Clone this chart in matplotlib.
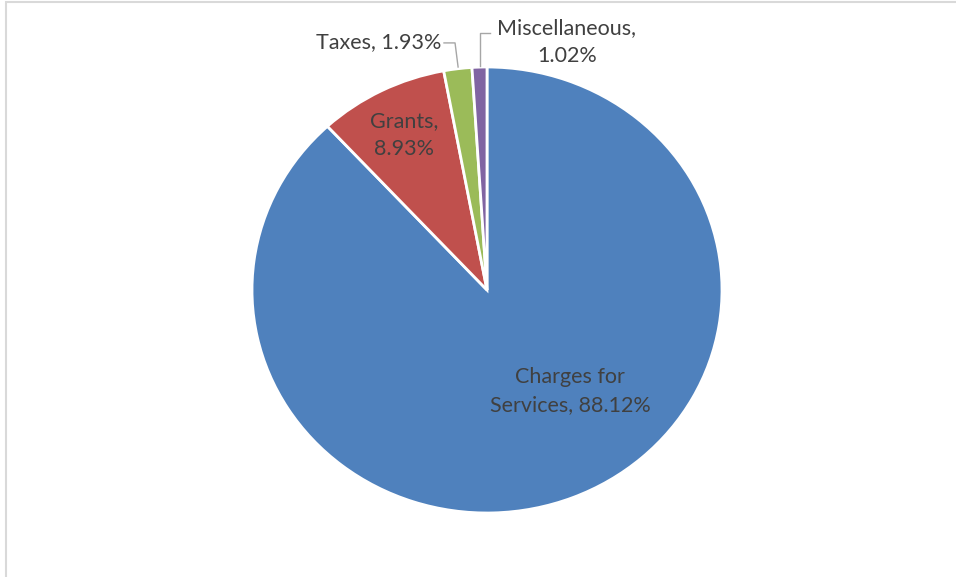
import matplotlib.pyplot as plt
from matplotlib.patches import Rectangle

categories = ['Charges for Services', 'Grants', 'Taxes', 'Miscellaneous']
shares = [88.12, 8.93, 1.93, 1.02]
colors = ['#4F81BD', '#C0504D', '#9BBB59', '#8064A2']

plt.rcParams['font.family'] = ['Lato', 'DejaVu Sans']

fig = plt.figure(figsize=(9.56, 5.77), dpi=100)

# chart area border (cut off on the right and bottom)
fig.patches.append(Rectangle((6 / 956, -0.1), 1.2, (577 - 2) / 577 + 0.1,
                             transform=fig.transFigure, fill=False,
                             edgecolor='#D9D9D9', linewidth=1.5))

ax = fig.add_axes([252 / 956, 64 / 577, 470 / 956, 446 / 577])
ax.pie(shares, colors=colors, startangle=90, counterclock=False,
       wedgeprops=dict(edgecolor='white', linewidth=2))
ax.set_aspect('auto')
ax.set_xlim(-1, 1)
ax.set_ylim(-1, 1)
ax.axis('off')

txt = dict(color='#404040', fontsize=15.5, ha='center', va='center', linespacing=1.45)
ax.text(0.353, -0.453, 'Charges for\nServices, %.2f%%' % shares[0], **txt)
ax.text(-0.353, 0.695, 'Grants,\n%.2f%%' % shares[1], **txt)
ax.text(-0.196, 1.112, 'Taxes, %.2f%%' % shares[2], **dict(txt, ha='right'))
ax.text(0.34, 1.112, 'Miscellaneous,\n%.2f%%' % shares[3], **txt)

# leader lines
ax.plot([-0.183, -0.136, -0.123], [1.108, 1.108, 1.0], color='#A6A6A6', lw=1, clip_on=False)
ax.plot([0.013, -0.030, -0.030], [1.152, 1.152, 1.004], color='#A6A6A6', lw=1, clip_on=False)

fig.savefig('out.png', dpi=100)
